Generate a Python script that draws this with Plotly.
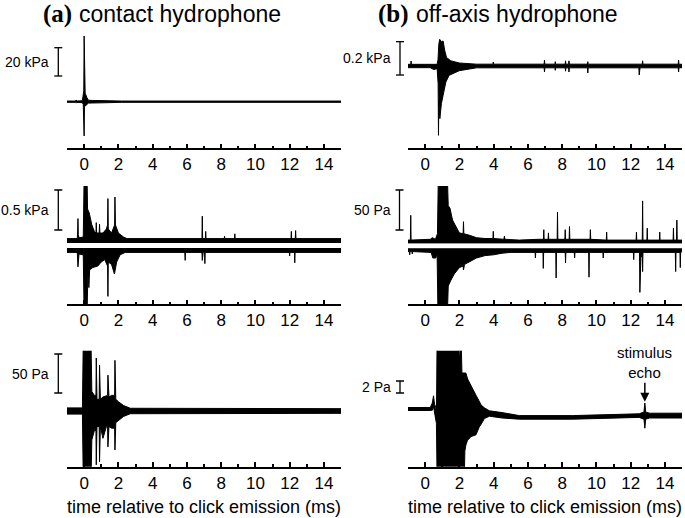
import plotly.graph_objects as go

# time axis (ms)
x_ticks = [0, 2, 4, 6, 8, 10, 12, 14]
x_tick_labels = [str(v) for v in x_ticks]
x_minor = [-1, 1, 3, 5, 7, 9, 11, 13, 15]

# (a) contact hydrophone, top row (kPa), envelope of a single trace
a1_t = [-1, -0.5, -0.46, -0.42, -0.1, -0.05, -0.02, 0.0, 0.02, 0.06, 0.16, 0.25, 0.5, 1.0, 1.5, 1.8, 2.2, 15]
a1_hi = [0.45, 0.45, 1.2, 0.45, 0.7, 4.0, 7.8, 46.4, 7.8, 6.0, 3.0, 1.0, 0.9, 0.8, 0.9, 0.7, 0.45, 0.45]
a1_lo = [-0.45, -0.45, -1.0, -0.45, -0.7, -2.0, -3.5, -24.2, -3.5, -3.0, -2.0, -1.0, -0.9, -0.8, -0.9, -0.7, -0.45, -0.45]

# (a) middle row (kPa): positive and negative peak traces
a2_up_t = [-1, -0.4, -0.38, -0.36, -0.34, -0.3, -0.05, 0.0, 0.17, 0.2, 0.3, 0.45, 0.6, 0.69, 0.71, 0.73, 0.88, 0.9, 0.92,
           1.1, 1.3, 1.37, 1.39, 1.41, 1.6, 1.78, 1.8, 1.83, 2.0, 2.3, 2.5, 6.88, 6.9, 6.92, 7.08, 7.1, 7.12, 8.18, 8.2,
           8.22, 8.78, 8.8, 8.82, 12.08, 12.1, 12.12, 12.33, 12.35, 12.37, 15]
a2_up_v = [0.03, 0.03, 0.1, 0.28, 0.08, 0.04, 0.05, 0.8, 0.8, 0.4, 0.35, 0.2, 0.12, 0.1, 0.23, 0.1, 0.1, 0.21, 0.1,
           0.1, 0.15, 0.2, 0.53, 0.15, 0.1, 0.2, 0.55, 0.2, 0.1, 0.05, 0.03, 0.03, 0.31, 0.03, 0.03, 0.12, 0.03, 0.03, 0.06,
           0.03, 0.03, 0.09, 0.03, 0.03, 0.12, 0.03, 0.03, 0.13, 0.03, 0.03]
a2_dn_t = [-1, -0.4, -0.36, -0.3, -0.05, 0.0, 0.17, 0.22, 0.28, 0.32, 0.5, 0.8, 1.0, 1.2, 1.37, 1.39, 1.41, 1.6, 1.77,
           1.9, 2.1, 2.4, 5.88, 5.9, 5.92, 6.88, 6.9, 6.95, 7.03, 7.05, 7.07, 11.98, 12.0, 12.02, 12.28, 12.3, 12.32, 15]
a2_dn_v = [-0.03, -0.03, -0.21, -0.05, -0.06, -0.8, -0.8, -0.3, -0.47, -0.25, -0.22, -0.2, -0.15, -0.12, -0.2, -0.58,
           -0.15, -0.18, -0.3, -0.15, -0.06, -0.03, -0.03, -0.13, -0.03, -0.03, -0.13, -0.03, -0.03, -0.17, -0.03,
           -0.03, -0.075, -0.03, -0.03, -0.16, -0.03, -0.03]

# (a) bottom row (Pa), single trace envelope
a3_t = [-1, -0.1, -0.05, 0.4, 0.45, 0.6, 0.69, 0.71, 0.75, 0.88, 0.9, 0.95, 1.1, 1.3, 1.37, 1.39, 1.45, 1.6, 1.78, 1.8,
        1.85, 2.0, 2.3, 2.7, 15]
a3_hi = [4, 4, 90, 90, 25, 20, 20, 68, 15, 15, 59, 15, 18, 20, 20, 46, 18, 20, 20, 65, 15, 12, 7, 3.5, 3]
a3_lo = [-4, -4, -90, -90, -37, -25, -25, -69, -20, -20, -65, -20, -35, -20, -20, -46, -20, -22, -22, -50, -15, -12, -7,
         -3.5, -3]

# (b) off-axis hydrophone, top row (kPa): positive and negative peak traces
b1_up_t = [-1, -0.84, -0.82, -0.8, 0.7, 0.75, 0.8, 0.85, 0.95, 1.05, 1.15, 1.25, 1.5, 2.0, 3.0, 3.96, 3.98, 4.0, 6.95,
           6.97, 6.99, 7.58, 7.6, 7.62, 8.18, 8.2, 8.22, 8.38, 8.4, 8.42, 9.48, 9.5, 9.52, 12.68, 12.7, 12.72, 14.78,
           14.8, 14.82, 15]
b1_up_v = [0.004, 0.004, 0.024, 0.004, 0.004, 0.03, 0.125, 0.154, 0.14, 0.144, 0.084, 0.045, 0.025, 0.012, 0.005, 0.005,
           0.018, 0.005, 0.005, 0.03, 0.005, 0.005, 0.02, 0.005, 0.005, 0.025, 0.005, 0.005, 0.025, 0.005, 0.005, 0.02,
           0.005, 0.005, 0.025, 0.005, 0.005, 0.03, 0.005, 0.004]
b1_dn_t = [-1, 0.3, 0.5, 0.7, 0.76, 0.78, 0.8, 0.86, 0.95, 1.05, 1.21, 1.4, 2.0, 2.5, 3.0, 6.95, 6.97, 6.99, 7.58, 7.6,
           7.62, 8.18, 8.2, 8.22, 8.38, 8.4, 8.42, 9.48, 9.5, 9.52, 12.48, 12.5, 12.55, 14.78, 14.8, 14.82, 15]
b1_dn_v = [-0.004, -0.004, -0.015, -0.01, -0.1, -0.41, -0.2, -0.31, -0.22, -0.17, -0.09, -0.05, -0.022, -0.012, -0.005,
           -0.005, -0.03, -0.005, -0.005, -0.02, -0.005, -0.005, -0.025, -0.005, -0.005, -0.03, -0.005, -0.005, -0.036,
           -0.005, -0.005, -0.048, -0.005, -0.005, -0.03, -0.005, -0.004]

# (b) middle row (Pa): positive and negative peak traces
b2_up_t = [-1, -0.86, -0.84, -0.82, 0.3, 0.42, 0.6, 0.72, 0.77, 1.3, 1.35, 1.45, 1.6, 1.8, 2.0, 2.22, 2.24, 2.26, 2.6,
           3.0, 3.5, 3.96, 3.98, 4.0, 4.6, 4.63, 4.66, 5.5, 6.6, 6.91, 6.93, 6.95, 7.18, 7.2, 7.22, 7.71, 7.73, 7.75,
           8.16, 8.18, 8.2, 8.41, 8.43, 8.45, 9.63, 9.65, 9.67, 10.58, 10.6, 10.62, 12.32, 12.34, 12.36, 12.68, 12.7,
           12.72, 12.95, 12.97, 12.99, 13.68, 13.7, 13.72, 14.48, 14.5, 14.52, 14.68, 14.7, 14.72, 15]
b2_up_v = [2, 2, 33, 2, 3, 5, 3, 10, 80, 80, 45, 42, 27, 18, 11, 10, 25, 10, 8,
           5, 4, 4, 13, 4, 3, 7, 3, 2, 3, 3, 15, 3, 3, 11, 3, 3, 37, 3,
           3, 15, 3, 3, 19, 3, 3, 15, 3, 2, 12, 2, 2, 12, 2, 2, 51,
           2, 2, 17, 2, 2, 12, 2, 2, 17, 2, 2, 27, 2, 2]
b2_dn_t = [-1, -0.92, -0.9, -0.88, -0.77, -0.75, -0.73, 0.35, 0.45, 0.62, 0.7, 0.75, 1.3, 1.35, 1.5, 1.7, 2.0, 2.22,
           2.24, 2.3, 2.6, 3.0, 3.5, 4.0, 4.5, 5.0, 6.42, 6.44, 6.46, 6.88, 6.9, 6.92, 7.63, 7.65, 7.67, 8.18, 8.2, 8.22,
           8.71, 8.73, 8.75, 9.55, 9.57, 9.59, 10.38, 10.4, 10.42, 12.16, 12.18, 12.2, 12.52, 12.54, 12.6, 12.68, 12.7,
           12.72, 14.61, 14.63, 14.65, 14.88, 14.9, 14.92, 15]
b2_dn_v = [-2, -2, -6, -2, -2, -5, -2, -3, -10, -10, -5, -80, -80, -45, -38, -30, -22, -20,
           -25, -18, -14, -10, -7, -6, -4, -3, -3, -10, -3, -3, -23, -3, -3, -35, -3, -3, -16, -3,
           -3, -10, -3, -3, -34, -3, -3, -10, -3, -3, -12, -3, -3, -53, -8, -8, -27,
           -3, -3, -27, -3, -3, -22, -3, -2]

# (b) bottom row (Pa), single trace envelope
b3_t = [-1, 0.3, 0.42, 0.49, 0.55, 0.62, 0.66, 0.7, 1.95, 2.0, 2.1, 2.15, 2.28, 2.32, 2.38, 2.48, 2.68, 2.97, 3.16, 3.26,
        3.46, 3.56, 3.75, 4.5, 5.5, 8.6, 10.6, 12.5, 12.78, 12.83, 12.88, 13.1, 15]
b3_hi = [0.25, 0.25, 1.0, 2.2, 0.8, 0.3, -1.8, 12, 12, 8, 12, 6, 6, 6, 6, 5, 4, 2.3, 1.3, 0.7,
         0.2, 0.0, -0.3, -0.6, -1.1, -1.1, -0.9, -0.8, -0.5, 1.0, -0.5, -0.7, -0.7]
b3_lo = [-0.25, -0.25, -0.2, 0.4, -0.8, -1.6, -2.4, -12, -12, -12, -12, -12, -12, -7, -6, -5.2, -4.6, -4.3, -3.0, -2.6,
         -1.6, -1.4, -1.2, -1.5, -1.7, -1.7, -1.5, -1.4, -1.7, -3.2, -1.7, -1.5, -1.5]

W, H = 685, 518
COLS = [(67, 341), (408, 682)]
ROWS = [(30, 148), (186, 304.3), (350.7, 466.7)]
FONT = "Arial, Liberation Sans, sans-serif"


def px_x(px):
    return px / W


def px_y(py):
    return 1 - py / H


# per panel: baseline pixel, pixels per unit, trace offset / noise (px), scale bar (value, bottom px, x px, label)
panels = [
    dict(col=0, row=0, base=101.7, s=1.415, bar=(20, 76, 58.3, "20 kPa")),
    dict(col=1, row=0, base=66, s=166.7, off=1.0, noise=0.5, bar=(0.2, 75, 400, "0.2 kPa")),
    dict(col=0, row=1, base=245.5, s=80, off=4.5, noise=1.5, bar=(0.5, 230, 58.3, "0.5 kPa")),
    dict(col=1, row=1, base=245.85, s=0.8, off=4.15, noise=1.2, bar=(50, 230, 399.5, "50 Pa")),
    dict(col=0, row=2, base=411, s=0.78, bar=(50, 393, 58.3, "50 Pa")),
    dict(col=1, row=2, base=409, s=6, bar=(2, 393, 400, "2 Pa")),
]

envelopes = {1: (a1_t, a1_hi, a1_lo), 5: (a3_t, a3_hi, a3_lo), 6: (b3_t, b3_hi, b3_lo)}
peaks = {2: (b1_up_t, b1_up_v, b1_dn_t, b1_dn_v), 3: (a2_up_t, a2_up_v, a2_dn_t, a2_dn_v),
         4: (b2_up_t, b2_up_v, b2_dn_t, b2_dn_v)}


def band(t, hi, lo, n):
    sfx = "" if n == 1 else str(n)
    return go.Scatter(x=list(t) + list(t[::-1]), y=list(hi) + list(lo[::-1]), fill="toself", fillcolor="black",
                      mode="lines", line=dict(color="black", width=1), xaxis="x" + sfx, yaxis="y" + sfx,
                      hoverinfo="skip", showlegend=False)


fig = go.Figure()
shapes, annotations = [], []

for n, p in enumerate(panels, start=1):
    sfx = "" if n == 1 else str(n)
    x0, x1 = COLS[p["col"]]
    top, bottom = ROWS[p["row"]]
    base, s = p["base"], p["s"]

    if n in envelopes:
        t, hi, lo = envelopes[n]
        fig.add_trace(band(t, hi, lo, n))
    else:
        off = p["off"] / s
        nz = p["noise"] / s
        ut, uv, dt, dv = peaks[n]
        fig.add_trace(band(ut, [off + v for v in uv], [off - nz] * len(ut), n))
        fig.add_trace(band(dt, [-off + nz] * len(dt), [-off + v for v in dv], n))

    fig.layout["xaxis" + sfx] = dict(
        domain=[px_x(x0), px_x(x1)], range=[-1, 15], anchor="y" + sfx, showline=True, linecolor="black",
        linewidth=1.5, ticks="inside", ticklen=4.5, tickwidth=1.5, tickcolor="black",
        tickvals=x_ticks, ticktext=x_tick_labels,
        minor=dict(tickvals=x_minor, ticks="inside", ticklen=2.5, tickwidth=1.5, tickcolor="black"),
        showgrid=False, zeroline=False, tickfont=dict(family=FONT, size=17, color="black"), fixedrange=True)
    fig.layout["yaxis" + sfx] = dict(
        domain=[px_y(bottom), px_y(top)], range=[(base - bottom) / s, (base - top) / s],
        anchor="x" + sfx, visible=False, fixedrange=True)

    # scale bar
    val, bar_bottom, bx, label = p["bar"]
    y0 = (base - bar_bottom) / s
    y1 = y0 + val
    line = dict(color="black", width=1.3)
    shapes.append(dict(type="line", xref="paper", yref="y" + sfx, x0=px_x(bx), x1=px_x(bx), y0=y0, y1=y1, line=line))
    for yy in (y0, y1):
        shapes.append(dict(type="line", xref="paper", yref="y" + sfx, x0=px_x(bx - 4), x1=px_x(bx + 4),
                           y0=yy, y1=yy, line=line))
    annotations.append(dict(xref="paper", yref="y" + sfx, x=px_x(bx - 7), y=(y0 + y1) / 2, text=label,
                            showarrow=False, xanchor="right", yanchor="middle",
                            font=dict(family=FONT, size=14, color="black")))

# column titles
for letter, name, x_letter in [("(a)", "contact hydrophone", 74), ("(b)", "off-axis hydrophone", 411)]:
    annotations.append(dict(xref="paper", yref="paper", x=px_x(x_letter), y=px_y(14), text="<b>" + letter + "</b>",
                            showarrow=False, xanchor="right", yanchor="middle",
                            font=dict(family="Times New Roman, Liberation Serif, serif", size=25, color="black")))
    annotations.append(dict(xref="paper", yref="paper", x=px_x(x_letter + 3), y=px_y(14), text=name,
                            showarrow=False, xanchor="left", yanchor="middle",
                            font=dict(family=FONT, size=23, color="black")))

# x axis titles
for x0, x1 in COLS:
    annotations.append(dict(xref="paper", yref="paper", x=px_x((x0 + x1) / 2), y=px_y(507),
                            text="time relative to click emission (ms)", showarrow=False, xanchor="center",
                            yanchor="middle", font=dict(family=FONT, size=18, color="black")))

# stimulus echo marker
annotations.append(dict(xref="x6", yref="y6", x=12.83, y=1.22, text="stimulus<br>echo", showarrow=True,
                        ax=0, ay=-39, arrowhead=2, arrowsize=1.2, arrowwidth=1.5, arrowcolor="black",
                        font=dict(family=FONT, size=15, color="black")))

fig.update_layout(width=W, height=H, margin=dict(l=0, r=0, t=0, b=0), paper_bgcolor="white",
                  plot_bgcolor="white", shapes=shapes, annotations=annotations, showlegend=False)

# the page's default body margin would push the figure 8 px in; remove it
fig.write_html("out.html", config={"displayModeBar": False},
               post_script="document.body.style.margin = '0';")
